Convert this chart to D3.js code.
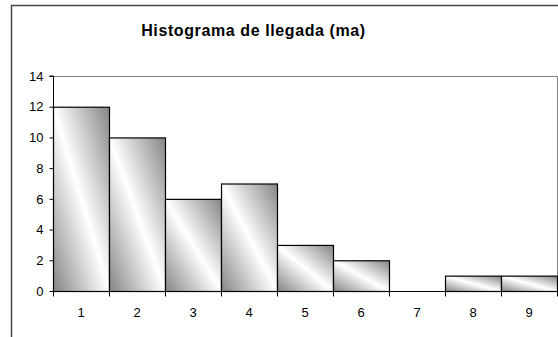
<!DOCTYPE html>
<html>
<head>
<meta charset="utf-8">
<script src="https://cdn.jsdelivr.net/npm/d3@7"></script>
<style>
  html, body { margin: 0; padding: 0; background: #fff; }
  svg { display: block; font-family: "Liberation Sans", Arial, sans-serif; }
</style>
</head>
<body>
<svg id="chart" width="558" height="337"></svg>
<script>
// Arrival histogram: frequency per class
const categories = ["1", "2", "3", "4", "5", "6", "7", "8", "9"];
const counts = [12, 10, 6, 7, 3, 2, 0, 1, 1];
const yTicks = [0, 2, 4, 6, 8, 10, 12, 14];
const title = "Histograma de llegada (ma)";

const svg = d3.select("#chart");
const W = 558, H = 337;
const plot = { left: 53, top: 76, right: 557, bottom: 291 };

// chart frame (clipped by the window on the right and bottom)
svg.append("rect")
  .attr("x", 11.5).attr("y", 5.5)
  .attr("width", W).attr("height", H)
  .attr("fill", "#fff")
  .attr("stroke", "#444").attr("stroke-width", 1.5);

// diagonal shaded fill for the bars
const defs = svg.append("defs");
const grad = defs.append("linearGradient")
  .attr("id", "barShade")
  .attr("x1", 0).attr("y1", 1).attr("x2", 1).attr("y2", 0);
grad.append("stop").attr("offset", 0).attr("stop-color", "#858585");
grad.append("stop").attr("offset", 0.5).attr("stop-color", "#ffffff");
grad.append("stop").attr("offset", 1).attr("stop-color", "#858585");

const x = d3.scaleBand()
  .domain(categories)
  .range([plot.left, plot.right])
  .padding(0);

const y = d3.scaleLinear()
  .domain([0, 14])
  .range([plot.bottom, plot.top]);

// plot area border (top and right)
svg.append("path")
  .attr("d", `M${plot.left},${plot.top + 0.5}H${plot.right + 0.5}V${plot.bottom}`)
  .attr("fill", "none")
  .attr("stroke", "#808080")
  .attr("stroke-width", 1);

// bars
svg.append("g")
  .selectAll("rect")
  .data(categories.map((c, i) => ({ c, v: counts[i] })).filter(d => d.v > 0))
  .join("rect")
  .attr("x", d => x(d.c) + 0.5)
  .attr("y", d => y(d.v) + 0.5)
  .attr("width", x.bandwidth())
  .attr("height", d => y(0) - y(d.v))
  .attr("fill", "url(#barShade)")
  .attr("stroke", "#000")
  .attr("stroke-width", 1.2);

// y axis
const yAxis = d3.axisLeft(y)
  .tickValues(yTicks)
  .tickSize(4)
  .tickPadding(6)
  .tickFormat(d3.format("d"));
const gy = svg.append("g")
  .attr("transform", `translate(${plot.left + 0.5},0)`)
  .call(yAxis);
gy.attr("font-size", null).attr("font-family", null);
gy.select(".domain").attr("stroke", "#000").attr("d", `M-4,${plot.top}H0V${plot.bottom}`);
gy.selectAll(".tick line").attr("stroke", "#000");
gy.selectAll(".tick text")
  .style("font-size", "13px")
  .attr("fill", "#000");

// x axis: ticks at class boundaries, labels centred in each class
const gx = svg.append("g")
  .attr("transform", `translate(0,${plot.bottom + 0.5})`);
gx.append("line")
  .attr("x1", plot.left).attr("x2", plot.right + 0.5)
  .attr("stroke", "#000");
const boundaries = categories.map(c => x(c)).concat([x.range()[1]]);
gx.selectAll(".bound")
  .data(boundaries)
  .join("line")
  .attr("class", "bound")
  .attr("x1", d => d + 0.5).attr("x2", d => d + 0.5)
  .attr("y1", 0).attr("y2", 5)
  .attr("stroke", "#000");
gx.selectAll(".lbl")
  .data(categories)
  .join("text")
  .attr("class", "lbl")
  .attr("x", d => x(d) + x.bandwidth() / 2)
  .attr("y", 25.5)
  .attr("text-anchor", "middle")
  .style("font-size", "13px")
  .text(d => d);

// title
svg.append("text")
  .attr("x", 253.5)
  .attr("y", 36)
  .attr("text-anchor", "middle")
  .style("font-size", "16px")
  .style("letter-spacing", "0.6px")
  .attr("font-weight", "bold")
  .text(title);
</script>
</body>
</html>
